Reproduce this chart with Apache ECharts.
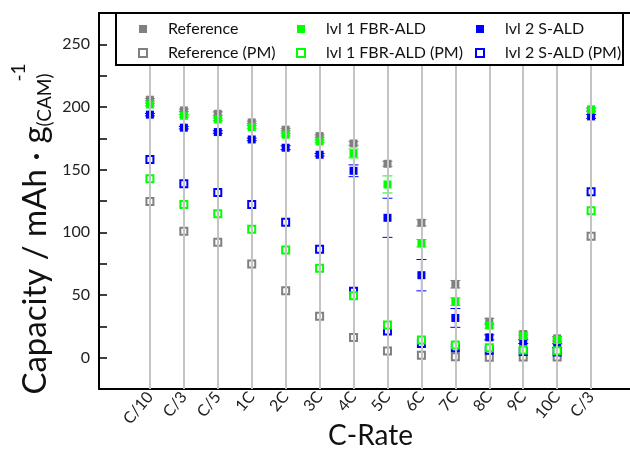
<!DOCTYPE html>
<html><head><meta charset="utf-8">
<script src="https://cdn.jsdelivr.net/npm/echarts@6/dist/echarts.min.js"></script>
<style>html,body{margin:0;padding:0;background:#fff}#c{width:630px;height:451px}</style>
</head><body><div id="c"></div>
<script>
const categories = ['C/10','C/3','C/5','1C','2C','3C','4C','5C','6C','7C','8C','9C','10C','C/3'];
const refVals  = [205.8,197.3,194.6,187.7,181.9,176.8,170.9,154.7,107.6,58.6,28.8,18.9,15.4,198];
const refErr   = [1,1,1.5,1,1,1,1.5,2,2.5,3,2.5,1.5,1.5,1];
const lvl1Vals = [202,193,190.1,184,177.9,172.5,162.9,138.2,91.3,44.7,25.6,17.3,14.1,197.8];
const lvl1Err  = [1,1,1,1,1,1,3.5,6.8,3,3,2,1.5,1.5,1.5];
const lvl2Vals = [193.9,183.5,180,174.1,167.5,161.9,149.1,111.6,65.8,31.7,16.2,12.8,9.6,192.5];
const lvl2Err  = [1,1,1,1,1.5,1,4.7,15.6,12.5,7.5,2,1.5,1.5,1.5];
const refPM    = [124.6,100.9,92.1,74.8,53.3,33,16,5.3,1.9,0.8,0.3,0.5,0.5,96.9];
const lvl1PM   = [142.7,122.2,114.8,102.5,86,71.3,49.5,26.1,14.1,10.1,8,6.1,5.6,117.2];
const lvl2PM   = [158.1,138.7,131.8,122.2,108.1,86.5,53,21.3,11.4,8,6,5,4.5,132.3];
const yTicks = [0,50,100,150,200,250];

const GRAY = '#808080', GREEN = '#00ff00', BLUE = '#0000ff';
const FONT = 'Lato';
const OFF = 1.5; // first category sits 1.5 slots from the left frame
const xOf = i => i + OFF;
const pts = vals => vals.map((v,i)=>[xOf(i), v]);
const errs = (vals, e) => vals.map((v,i)=>[xOf(i), v-e[i], v+e[i]]);

function errRender(color){
  return function(params, api){
    const x = api.value(0), lo = api.value(1), hi = api.value(2);
    const p1 = api.coord([x, hi]), p2 = api.coord([x, lo]);
    const w = 5;
    const st = {stroke: color, lineWidth: 1};
    return {type:'group', children:[
      {type:'line', shape:{x1:p1[0],y1:p1[1],x2:p2[0],y2:p2[1]}, style:st},
      {type:'line', shape:{x1:p1[0]-w,y1:p1[1],x2:p1[0]+w,y2:p1[1]}, style:st},
      {type:'line', shape:{x1:p2[0]-w,y1:p2[1],x2:p2[0]+w,y2:p2[1]}, style:st}
    ]};
  };
}
function errSeries(vals, e, color){
  return {type:'custom', renderItem: errRender(color), data: errs(vals, e),
    encode:{x:0, y:[1,2]}, silent:true, z:3};
}
function filled(name, vals, color){
  return {name, type:'scatter', symbol:'rect', symbolSize:8, data: pts(vals),
    itemStyle:{color, opacity:1}, z:4};
}
function open(name, vals, color){
  return {name, type:'scatter', symbol:'rect', symbolSize:7, data: pts(vals),
    itemStyle:{color:'#ffffff', borderColor:color, borderWidth:2, opacity:1}, z:4};
}
function legend(left, items){
  return {left, top:16, orient:'vertical', itemGap:8, itemWidth:8, itemHeight:8,
    data: items, z:110, selectedMode:false,
    textStyle:{fontFamily:FONT, fontSize:16, color:'#111', lineHeight:16, padding:[0,0,0,16]}};
}
const labelFmt = v => {
  const k = v - OFF;
  return (Math.abs(k - Math.round(k)) < 1e-6 && k >= 0 && k < categories.length) ? categories[Math.round(k)] : '';
};

const chart = echarts.init(document.getElementById('c'), null, {renderer:'canvas'});
chart.setOption({
  animation:false,
  backgroundColor:'#fff',
  grid:{left:99, top:13, width:543, bottom:62, containLabel:false, outerBoundsMode:'none'},
  xAxis:[{
    type:'value', min:0, max:16, interval:0.5, position:'bottom',
    axisLine:{show:true, onZero:false, lineStyle:{color:'#000', width:2}},
    axisTick:{show:false}, splitLine:{show:false},
    axisLabel:{rotate:50, margin:5, fontFamily:FONT, fontSize:16, color:'#222',
      padding:[20,0,0,0], formatter: labelFmt},
    name:'C-Rate', nameLocation:'middle', nameGap:33, nameMoveOverlap:false,
    nameTextStyle:{fontFamily:FONT, fontSize:28, color:'#111'}
  },{
    type:'value', min:0, max:16, interval:0.5, position:'top',
    axisLine:{show:true, onZero:false, lineStyle:{color:'#000', width:2}},
    axisTick:{show:false}, axisLabel:{show:false}, splitLine:{show:false}
  }],
  yAxis:{
    type:'value', min:-25, max:275, interval:25,
    axisLine:{show:true, onZero:false, lineStyle:{color:'#000', width:2}},
    axisTick:{show:true, inside:true, length:8, lineStyle:{color:'#000', width:1.5}},
    splitLine:{show:false},
    axisLabel:{margin:9, fontFamily:FONT, fontSize:16, color:'#222',
      formatter: v => yTicks.includes(v) ? String(v) : ''},
    name:'Capacity / mAh · g{sub|(CAM)}{sup|-1}', nameLocation:'middle', nameRotate:90, nameGap:37,
    nameMoveOverlap:false,
    nameTextStyle:{fontFamily:FONT, fontSize:33, color:'#111', padding:[0,56,0,0],
      rich:{
        sub:{fontFamily:FONT, fontSize:19, color:'#111', padding:[18,0,0,0]},
        sup:{fontFamily:FONT, fontSize:19, color:'#111', padding:[0,0,34,-8]}
      }}
  },
  legend:[
    legend(133, ['Reference','Reference (PM)']),
    legend(291, ['lvl 1 FBR-ALD','lvl 1 FBR-ALD (PM)']),
    legend(470, ['lvl 2 S-ALD','lvl 2 S-ALD (PM)'])
  ],
  graphic:[{type:'rect', shape:{x:116, y:13, width:507, height:52}, z:100,
    style:{fill:'#fff', stroke:'#000', lineWidth:2}}],
  series:[
    {type:'scatter', data:[], silent:true, z:1,
      markLine:{silent:true, symbol:'none', label:{show:false}, animation:false,
        lineStyle:{color:'#c4c4c4', width:2, type:'solid'},
        data: categories.map((c,i)=>({xAxis:xOf(i)}))}},
    errSeries(refVals, refErr, GRAY),
    filled('Reference', refVals, GRAY),
    open('Reference (PM)', refPM, GRAY),
    errSeries(lvl2Vals, lvl2Err, BLUE),
    filled('lvl 2 S-ALD', lvl2Vals, BLUE),
    open('lvl 2 S-ALD (PM)', lvl2PM, BLUE),
    errSeries(lvl1Vals, lvl1Err, GREEN),
    filled('lvl 1 FBR-ALD', lvl1Vals, GREEN),
    open('lvl 1 FBR-ALD (PM)', lvl1PM, GREEN)
  ]
});
</script></body></html>
